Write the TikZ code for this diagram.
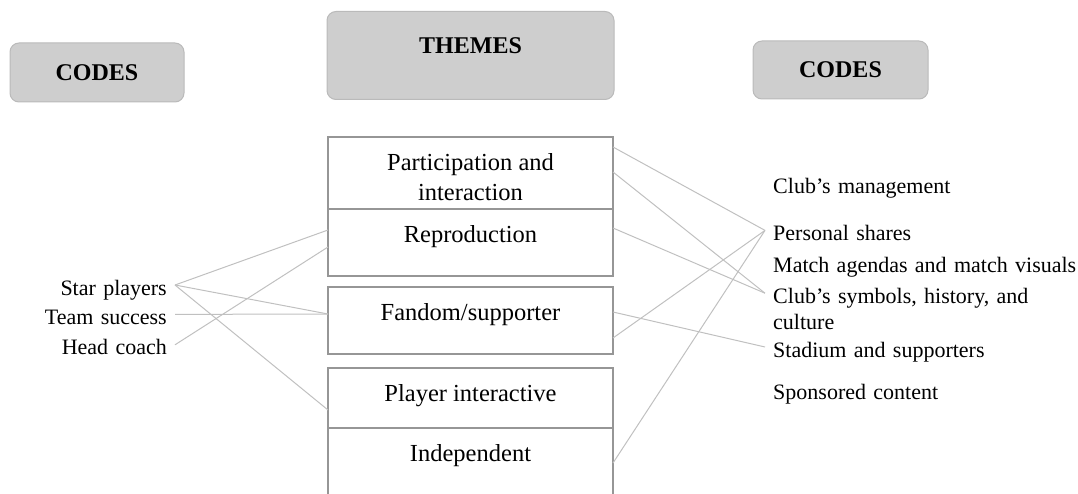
\documentclass[tikz,border=0pt]{standalone}
\usepackage{fontspec}
\setmainfont{Liberation Serif}
\usepackage{tikz}
\usetikzlibrary{positioning}

\definecolor{hdrfill}{RGB}{206,206,206}
\definecolor{hdrline}{RGB}{186,186,186}
\definecolor{cellline}{RGB}{150,150,150}
\definecolor{linkgray}{RGB}{192,192,192}

\begin{document}
\begin{tikzpicture}[
    x=1pt, y=-1pt,
    header/.style={rectangle, rounded corners=9pt, draw=hdrline, line width=1pt, fill=hdrfill, font=\fontsize{24}{28}\selectfont\bfseries, text centered},
    cell/.style={rectangle, draw=cellline, line width=1.8pt, minimum width=285pt, outer sep=0pt, inner sep=0pt},
    celltext/.style={font=\fontsize{24.5}{30}\selectfont, align=center, inner sep=0pt},
    leftcode/.style={font=\fontsize{22}{26}\selectfont, text width=130pt, align=right, text height=20pt, text depth=0pt, inner xsep=8pt, inner ysep=2pt},
    rightcode/.style={font=\fontsize{22}{26}\selectfont, text width=320pt, align=left, text height=20pt, text depth=0pt, inner xsep=8pt, inner ysep=2pt},
    link/.style={draw=linkgray, line width=1pt}
]

\useasboundingbox (0,0) rectangle (1078,494);
\clip (0,0) rectangle (1078,494);

% Theme cells
\node[cell, minimum height=72pt] (part) at (470.5,173) {};
\node[cell, minimum height=67pt, below=0pt of part] (repro) {};
\node[cell, minimum height=67pt, below=11pt of repro] (fandom) {};
\node[cell, minimum height=60pt, below=14pt of fandom] (player) {};
\node[cell, minimum height=82pt, below=0pt of player] (indep) {};

\node[celltext, below=16pt of part.north] (partlbl) {Participation and\\interaction};
\node[celltext, below=16pt of repro.north] (reprolbl) {Reproduction};
\node[celltext, below=16pt of fandom.north] (fandomlbl) {Fandom/supporter};
\node[celltext, below=16pt of player.north] (playerlbl) {Player interactive};
\node[celltext, below=16pt of indep.north] (indeplbl) {Independent};

% Headers
\node[header, minimum width=287pt, minimum height=88pt, text depth=20pt, above=37pt of part] (themes) {THEMES};
\node[header, minimum width=174pt, minimum height=59pt] (codesl) at (97,72.5) {CODES};
\node[header, minimum width=175pt, minimum height=58pt] (codesr) at (840.5,70) {CODES};

% Codes on the left
\node[leftcode, anchor=east] (star) at (175,285) {Star players};
\node[leftcode, below=5pt of star] (team) {Team success};
\node[leftcode, below=6pt of team] (head) {Head coach};

% Codes on the right
\node[rightcode, anchor=west] (mgmt) at (765,184) {Club’s management};
\node[rightcode, below=22pt of mgmt] (personal) {Personal shares};
\node[rightcode, below=8pt of personal] (match) {Match agendas and match visuals};
\node[rightcode, below=6pt of match] (symbols) {Club’s symbols, history, and};
\node[rightcode, below=2pt of symbols] (culture) {culture};
\node[rightcode, below=3pt of culture] (stadium) {Stadium and supporters};
\node[rightcode, below=18pt of stadium] (sponsored) {Sponsored content};

% Links from the left codes
\draw[link] (star.east) -- ([yshift=12.5pt]repro.west);
\draw[link] (head.east) -- ([yshift=-4.5pt]repro.west);
\draw[link] (star.east) -- ([yshift=6.5pt]fandom.west);
\draw[link] (team.east) -- ([yshift=6.5pt]fandom.west);
\draw[link] (star.east) -- ([yshift=-12pt]player.west);

% Links to the right codes
\draw[link] ([yshift=26pt]part.east) -- (personal.west);
\draw[link] ([yshift=1pt]part.east) -- (symbols.west);
\draw[link] ([yshift=14.5pt]repro.east) -- (symbols.west);
\draw[link] ([yshift=8.5pt]fandom.east) -- (stadium.west);
\draw[link] ([yshift=-17.5pt]fandom.east) -- (personal.west);
\draw[link] ([yshift=6pt]indep.east) -- (personal.west);

\end{tikzpicture}
\end{document}
